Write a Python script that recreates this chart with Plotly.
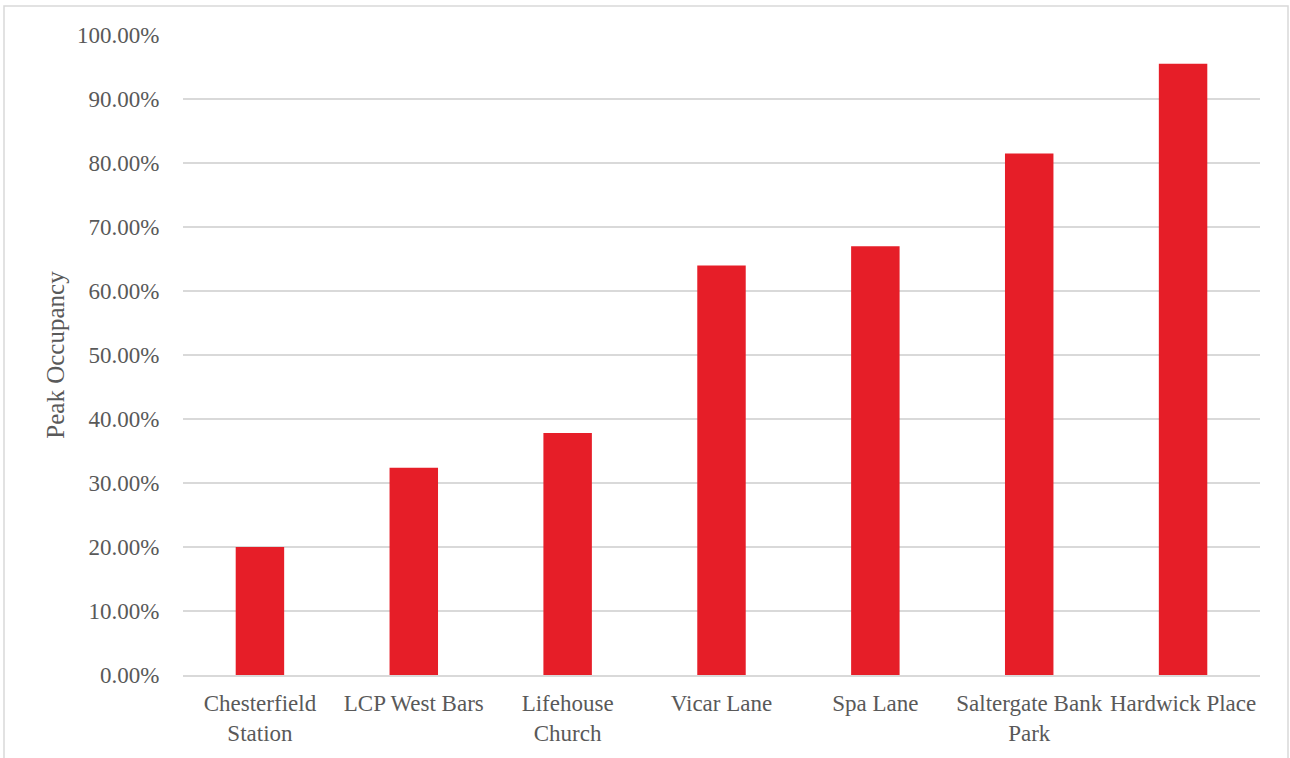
import plotly.graph_objects as go

categories = ["Chesterfield<br>Station", "LCP West Bars", "Lifehouse<br>Church", "Vicar Lane",
              "Spa Lane", "Saltergate Bank<br>Park", "Hardwick Place"]
occupancy = [0.200, 0.324, 0.378, 0.640, 0.670, 0.815, 0.955]

FONT = "Liberation Serif"
GREY = "#595959"

fig = go.Figure(go.Bar(x=categories, y=occupancy, marker=dict(color="#E61E28", line=dict(width=0)),
                       width=0.315))

W, H = 1290, 758
L, R, T, B = 183, 30, 35, 83
pw = W - L - R
ph = H - T - B

fig.update_layout(
    width=W, height=H,
    margin=dict(l=L, r=R, t=T, b=B),
    paper_bgcolor="white", plot_bgcolor="white",
    showlegend=False,
    font=dict(family=FONT, color=GREY, size=23),
    xaxis=dict(showgrid=False, showline=True, linecolor="#D9D9D9", linewidth=2,
               ticks="outside", ticklen=6, tickcolor="rgba(0,0,0,0)",
               tickfont=dict(size=23, color=GREY, family=FONT)),
    yaxis=dict(range=[0, 1], dtick=0.1, tickformat=".2%", showgrid=True, gridcolor="#D9D9D9",
               gridwidth=1.5, zeroline=False, ticks="outside", ticklen=18, tickcolor="rgba(0,0,0,0)",
               tickfont=dict(size=23, color=GREY, family=FONT),
               title=dict(text="Peak Occupancy", font=dict(size=25, color=GREY, family=FONT), standoff=5)),
    shapes=[dict(type="rect", xref="paper", yref="paper",
                 x0=(4 - L) / pw, x1=(1288 - L) / pw,
                 y0=-(B + 10) / ph, y1=1 + (T - 6) / ph,
                 line=dict(color="#D9D9D9", width=1.5), fillcolor="rgba(0,0,0,0)", layer="below")],
)

fig.write_html("out.html")
